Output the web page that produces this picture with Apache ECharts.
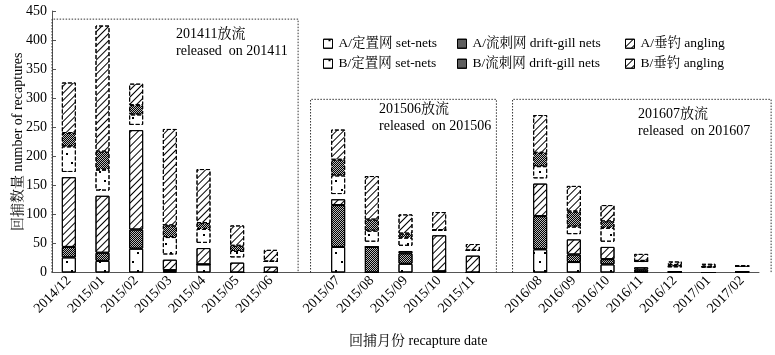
<!DOCTYPE html>
<html>
<head>
<meta charset="utf-8">
<script src="https://cdn.jsdelivr.net/npm/echarts@6/dist/echarts.min.js"></script>
<style>html,body{margin:0;padding:0;background:#fff;}#c{width:775px;height:355px;}</style>
</head>
<body>
<div id="c"></div>
<script>
// categories (two empty slots separate the three release groups)
var categories = ['2014/12','2015/01','2015/02','2015/03','2015/04','2015/05','2015/06','',
  '2015/07','2015/08','2015/09','2015/10','2015/11','',
  '2016/08','2016/09','2016/10','2016/11','2016/12','2017/01','2017/02'];
// series values (number of recaptures)
var aSetNets   = [26, 20, 41,  2, 14,  0,  0, null, 44,  0, 15,  2,  0, null, 40, 18, 14, 1, 1, 0, 1];
var aDriftGill = [18, 14, 33,  2,  0,  0,  0, null, 72, 44, 18,  0,  0, null, 57, 13,  9, 4, 0, 0, 0];
var aAngling   = [120, 98, 171, 18, 28, 17, 10, null, 10,  0,  4, 62, 29, null, 56, 26, 21, 4, 0, 0, 0];
var gapAB      = [9, 9, 9, 9, 9, 9, 9, null, 9, 9, 9, 9, 9, null, 9, 9, 9, 9, 9, 9, 9];
var bSetNets   = [44, 36, 18, 30, 24, 11,  0, null, 32, 19, 14,  0,  0, null, 21, 13, 24, 2, 0, 1, 1];
var bDriftGill = [23, 31, 16, 20, 10,  9,  0, null, 27, 19,  7,  0,  0, null, 23, 26, 11, 0, 3, 0, 0];
var bAngling   = [87, 217, 37, 166, 93, 35, 20, null, 52, 75, 33, 31, 11, null, 65, 44, 28, 12, 6, 5, 0];
// y-axis ticks
var yMin = 0, yMax = 450, yStep = 50;
// release group boxes: [slot from, slot to, top value, label line1, label line2]
var groups = [
  {from: -0.5, to: 6.81, top: 436, t1: '201411放流', t2: 'released  on 201411'},
  {from: 7.18, to: 12.7, top: 298, t1: '201506放流', t2: 'released  on 201506'},
  {from: 13.18, to: 20.86, top: 298, t1: '201607放流', t2: 'released  on 201607'}
];
var legendNames = ['A/定置网 set-nets','A/流刺网 drift-gill nets','A/垂钓 angling',
                   'B/定置网 set-nets','B/流刺网 drift-gill nets','B/垂钓 angling'];

var FONT = "'Liberation Serif','Noto Serif CJK SC','Noto Sans CJK SC',serif";
var dotDecal = {symbol:'rect', symbolSize:1, color:'#000',
  dashArrayX:[[1.5,9],[0,5,1.5,3.5]], dashArrayY:[1.5,7]};
var crossDecal = {symbol:'rect', symbolSize:1, color:'#000',
  dashArrayX:[[1,1],[0,1,1,0]], dashArrayY:[1,0]};
var hatchDecal = {symbol:'rect', symbolSize:1, color:'#000',
  dashArrayX:[1,0], dashArrayY:[1,3.2], rotation:-Math.PI/4};

function mk(name, data, decal, dashed, fill){
  return {name:name, type:'bar', stack:'t', data:data, barWidth:14,
    itemStyle:{color:fill||'#fff', borderColor:'#000', borderWidth:1,
      borderType: dashed ? 'dashed' : 'solid', decal:decal},
    emphasis:{disabled:true}};
}
var series = [
  mk(legendNames[0], aSetNets, dotDecal, false),
  mk(legendNames[1], aDriftGill, crossDecal, false, '#bbb'),
  mk(legendNames[2], aAngling, hatchDecal, false),
  {name:'gap', type:'bar', stack:'t', data:gapAB, barWidth:14,
    itemStyle:{color:'rgba(0,0,0,0)', borderWidth:0}, emphasis:{disabled:true}},
  mk(legendNames[3], bSetNets, dotDecal, true),
  mk(legendNames[4], bDriftGill, crossDecal, true, '#bbb'),
  mk(legendNames[5], bAngling, hatchDecal, true)
];
var legendPos = [[323,37],[457,37],[625,37],[323,57],[457,57],[625,57]];
var legends = legendNames.map(function(n,i){
  return {data:[n], left:legendPos[i][0], top:legendPos[i][1], itemWidth:9, itemHeight:9,
    itemGap:0, padding:0, selectedMode:false, icon:'rect',
    itemStyle:{borderWidth:1, borderColor:'#000'},
    textStyle:{fontFamily:FONT, fontSize:13.5, color:'#000', padding:[0,0,0,1]}};
});

var chart = echarts.init(document.getElementById('c'), null, {renderer:'canvas'});
chart.setOption({
  animation:false,
  backgroundColor:'#fff',
  grid:{left:52, right:16, top:11, bottom:82.5, containLabel:false, outerBoundsMode:'none'},
  legend: legends,
  xAxis:{type:'category', data:categories,
    axisLine:{lineStyle:{color:'#555', width:1}},
    axisTick:{inside:true, length:4, interval:0, lineStyle:{color:'#555'}},
    axisLabel:{rotate:45, interval:0, fontFamily:FONT, fontSize:14, color:'#000', margin:6},
    splitLine:{show:false}},
  yAxis:{type:'value', min:yMin, max:yMax, interval:yStep,
    name:'回捕数量 number of recaptures', nameLocation:'middle', nameGap:27, nameMoveOverlap:false,
    nameTextStyle:{fontFamily:FONT, fontSize:14, color:'#000'},
    axisLine:{show:true, lineStyle:{color:'#555'}},
    axisTick:{show:true, inside:true, length:4, lineStyle:{color:'#555'}},
    axisLabel:{fontFamily:FONT, fontSize:14, color:'#000', margin:5},
    splitLine:{show:false}},
  series: series
});

// boxes & labels positioned through the axis scales
var c0 = chart.convertToPixel({xAxisIndex:0}, 0);
var c1 = chart.convertToPixel({xAxisIndex:0}, 1);
var bw = c1 - c0;
var y0 = chart.convertToPixel({yAxisIndex:0}, 0);
function sx(s){ return c0 + s*bw; }
var gr = [];
groups.forEach(function(g, i){
  var x1 = sx(g.from), x2 = sx(g.to), yt = chart.convertToPixel({yAxisIndex:0}, g.top);
  gr.push({type:'polyline', silent:true, z:1,
    shape:{points:[[x1,y0],[x1,yt],[x2,yt],[x2,y0]]},
    style:{stroke:'#333', lineWidth:1, lineDash:[1.5,1.5], fill:null}});
});
var tpos = [[176,26],[379,101],[638,106]];
groups.forEach(function(g,i){
  gr.push({type:'text', silent:true, left:tpos[i][0], top:tpos[i][1],
    style:{text:g.t1 + '\n' + g.t2, fontFamily:FONT, fontSize:14, lineHeight:17, fill:'#000'}});
});
gr.push({type:'text', silent:true, left:349, top:334,
  style:{text:'回捕月份 recapture date', fontFamily:FONT, fontSize:14, fill:'#000'}});
chart.setOption({graphic: gr});
</script>
</body>
</html>
